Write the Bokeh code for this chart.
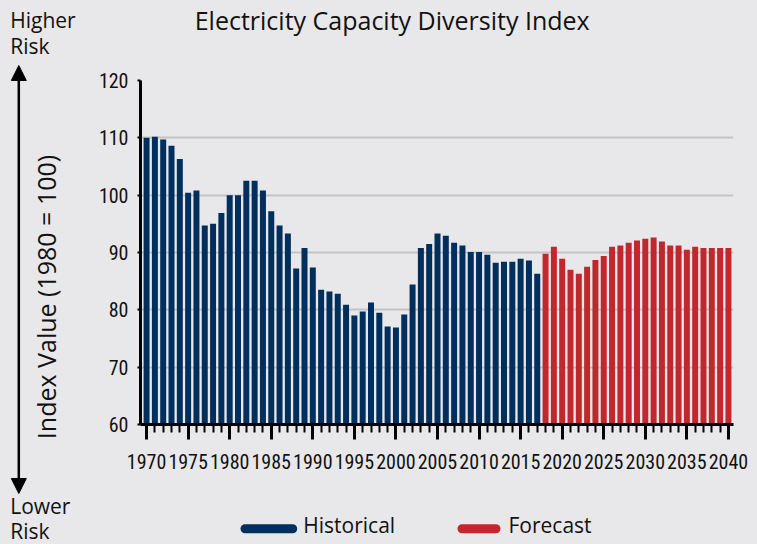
import math
from bokeh.plotting import figure
from bokeh.layouts import row, column
from bokeh.models import (FixedTicker, Label, Arrow, NormalHead,
                          Range1d, ColumnDataSource)
from bokeh.embed import file_html
from bokeh.resources import INLINE

# ---------------- data ----------------
hist_years = list(range(1970, 2018))
hist_values = [110.0, 110.2, 109.7, 108.6, 106.3, 100.4, 100.8, 94.7, 95.0, 96.9,
               100.0, 100.0, 102.5, 102.5, 100.8, 97.2, 94.7, 93.3, 87.2, 90.8,
               87.4, 83.5, 83.2, 82.8, 80.9, 79.0, 79.7, 81.3, 79.5, 77.1,
               76.9, 79.2, 84.4, 90.8, 91.5, 93.3, 92.9, 91.7, 91.2, 90.1,
               90.1, 89.6, 88.2, 88.4, 88.4, 88.9, 88.6, 86.3]
fc_years = list(range(2018, 2041))
fc_values = [89.8, 91.0, 88.9, 87.0, 86.3, 87.5, 88.7, 89.4, 91.0, 91.2,
             91.7, 92.1, 92.4, 92.6, 91.9, 91.2, 91.2, 90.5, 91.0, 90.8,
             90.8, 90.8, 90.8]
y_ticks = [60, 70, 80, 90, 100, 110, 120]
x_major_ticks = list(range(1970, 2041, 5))
x_minor_ticks = list(range(1970, 2041))
title_text = "Electricity Capacity Diversity Index"
y_label_text = "Index Value (1980 = 100)"
series_names = ["Historical", "Forecast"]

# ---------------- style ----------------
BG = "#e8e8ea"
BLUE = "#002e5d"
RED = "#c3272e"
GRID = "#c4c4c6"
INK = "#111111"
SANS = "Open Sans"
TICK_FONT = "Roboto Condensed"

LEFT_W, MAIN_W = 78, 679
TITLE_H, MAIN_H, LEG_H = 48, 454, 42


def canvas_fig(w, h):
    f = figure(width=w, height=h, x_range=Range1d(0, w), y_range=Range1d(h, 0),
               title=None, output_backend="svg", toolbar_location=None,
               x_axis_location=None, y_axis_location=None,
               min_border=0, min_border_left=0, min_border_right=0,
               min_border_top=0, min_border_bottom=0, frame_align=False,
               background_fill_color=BG, border_fill_color=BG,
               outline_line_color=None)
    f.grid.visible = False
    return f


# ---------------- left strip: risk arrow + y label ----------------
left = canvas_fig(LEFT_W, TITLE_H + MAIN_H + LEG_H)
for txt, yy in [("Higher", 19.3), ("Risk", 45.3), ("Lower", 505), ("Risk", 530)]:
    left.add_layout(Label(x=9.7, y=yy, text=txt, text_align="left",
                          text_baseline="alphabetic", text_font=SANS,
                          text_font_size="21px", text_color=INK))
left.add_layout(Arrow(x_start=18.3, y_start=493, x_end=18.3, y_end=65,
                      line_width=2.5, line_color="black",
                      start=NormalHead(size=15, fill_color="black", line_color="black"),
                      end=NormalHead(size=15, fill_color="black", line_color="black")))
left.add_layout(Label(x=45.5, y=296.5, text=y_label_text, angle=math.pi / 2,
                      text_align="center", text_baseline="middle", text_font=SANS,
                      text_font_size="25px", text_color=INK))

# ---------------- title strip ----------------
top = canvas_fig(MAIN_W, TITLE_H)
top.add_layout(Label(x=313.7, y=19.5, text=title_text, text_align="center",
                     text_baseline="alphabetic", text_font=SANS,
                     text_font_size="25px", text_color=INK))

# ---------------- main chart ----------------
X0, X1 = 1969.27, 2040.61
p = figure(width=MAIN_W, height=MAIN_H, x_range=Range1d(X0, X1),
           y_range=Range1d(60, 120), title=None,
           output_backend="svg", toolbar_location=None, frame_align=False,
           min_border_left=62, min_border_right=24,
           min_border_top=32, min_border_bottom=78,
           background_fill_color=BG, border_fill_color=BG,
           outline_line_color=None)

hist_src = ColumnDataSource(dict(x=hist_years, top=hist_values))
fc_src = ColumnDataSource(dict(x=fc_years, top=fc_values))
p.vbar(x="x", top="top", bottom=60, width=0.72, source=hist_src,
       fill_color=BLUE, line_color=None)
p.vbar(x="x", top="top", bottom=60, width=0.72, source=fc_src,
       fill_color=RED, line_color=None)

p.xgrid.visible = False
p.ygrid.grid_line_color = GRID
p.ygrid.grid_line_width = 2

xa = p.xaxis[0]
xa.ticker = FixedTicker(ticks=x_major_ticks, minor_ticks=x_minor_ticks)
xa.axis_line_color = "black"
xa.axis_line_width = 3
xa.major_tick_line_color = "black"
xa.major_tick_line_width = 3
xa.major_tick_in = 0
xa.major_tick_out = 15
xa.minor_tick_line_color = "black"
xa.minor_tick_line_width = 2
xa.minor_tick_in = 0
xa.minor_tick_out = 8
xa.major_label_text_font = TICK_FONT
xa.major_label_text_font_size = "20px"
xa.major_label_text_color = INK
xa.major_label_standoff = 14

ya = p.yaxis[0]
ya.ticker = FixedTicker(ticks=y_ticks, minor_ticks=[])
ya.axis_line_color = "black"
ya.axis_line_width = 3
ya.major_tick_line_color = "black"
ya.major_tick_line_width = 2
ya.major_tick_in = 0
ya.major_tick_out = 3
ya.minor_tick_line_color = None
ya.major_label_text_font = TICK_FONT
ya.major_label_text_font_size = "20px"
ya.major_label_text_color = INK
ya.major_label_standoff = 9

# ---------------- legend strip ----------------
leg = canvas_fig(MAIN_W, LEG_H)
swatch_colors = [BLUE, RED]
swatch_x0 = [166.5, 383.5]
swatch_x1 = [214.2, 417.5]
label_x = [224.8, 430.0]
for name, col, a, b, lx in zip(series_names, swatch_colors, swatch_x0, swatch_x1, label_x):
    leg.segment(x0=[a], y0=[26.3], x1=[b], y1=[26.3], line_color=col,
                line_width=9, line_cap="round")
    leg.add_layout(Label(x=lx, y=22.7, text=name, text_align="left",
                         text_baseline="alphabetic", text_font=SANS,
                         text_font_size="21px", text_color=INK))

layout = row(left, column(top, p, leg, spacing=0), spacing=0,
             styles={"background-color": BG})
open("out.html", "w").write(file_html(layout, INLINE))
